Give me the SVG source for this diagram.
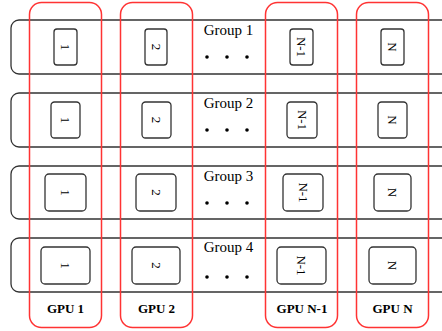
<svg xmlns="http://www.w3.org/2000/svg" width="442" height="331" viewBox="0 0 442 331">
<style>
.row{fill:none;stroke:#333;stroke-width:1.3}
.box{fill:#fff;stroke:#333;stroke-width:1.3}
.col{fill:none;stroke:#ff3333;stroke-width:1.5}
.num{font-family:"Liberation Serif",serif;font-size:13px;fill:#000;text-anchor:middle;dominant-baseline:central}
.grp{font-family:"Liberation Serif",serif;font-size:15px;fill:#000;text-anchor:middle}
.gpu{font-family:"Liberation Serif",serif;font-size:13px;font-weight:bold;fill:#000;text-anchor:middle}
.dot{fill:#000}
</style>
<rect width="442" height="331" fill="#fff"/>
<g id="group1">
<rect class="row" x="11" y="20" width="440" height="54" rx="8"/>
<text class="grp" x="228.5" y="35">Group 1</text>
<circle class="dot" cx="207" cy="57" r="1.8"/><circle class="dot" cx="227" cy="57" r="1.8"/><circle class="dot" cx="247" cy="57" r="1.8"/>
</g>
<g id="group2">
<rect class="row" x="11" y="93" width="440" height="54" rx="8"/>
<text class="grp" x="228.5" y="108">Group 2</text>
<circle class="dot" cx="207" cy="130" r="1.8"/><circle class="dot" cx="227" cy="130" r="1.8"/><circle class="dot" cx="247" cy="130" r="1.8"/>
</g>
<g id="group3">
<rect class="row" x="11" y="166" width="440" height="53" rx="8"/>
<text class="grp" x="228.5" y="181">Group 3</text>
<circle class="dot" cx="207" cy="203" r="1.8"/><circle class="dot" cx="227" cy="203" r="1.8"/><circle class="dot" cx="247" cy="203" r="1.8"/>
</g>
<g id="group4">
<rect class="row" x="11" y="238" width="440" height="54" rx="8"/>
<text class="grp" x="228.5" y="252">Group 4</text>
<circle class="dot" cx="207" cy="277" r="1.8"/><circle class="dot" cx="227" cy="277" r="1.8"/><circle class="dot" cx="247" cy="277" r="1.8"/>
</g>
<g id="r1c1"><rect class="box" x="54" y="29" width="23" height="36" rx="3"/><text class="num" transform="translate(65.5,47) rotate(90)">1</text></g>
<g id="r1c2"><rect class="box" x="145" y="29" width="22" height="36" rx="3"/><text class="num" transform="translate(156,47) rotate(90)">2</text></g>
<g id="r1c3"><rect class="box" x="290" y="29" width="23" height="36" rx="3"/><text class="num" transform="translate(301.5,47) rotate(90)">N-1</text></g>
<g id="r1c4"><rect class="box" x="381" y="29" width="23" height="36" rx="3"/><text class="num" transform="translate(392.5,47) rotate(90)">N</text></g>
<g id="r2c1"><rect class="box" x="51" y="102" width="29" height="36" rx="3.5"/><text class="num" transform="translate(65.5,120) rotate(90)">1</text></g>
<g id="r2c2"><rect class="box" x="142" y="102" width="29" height="36" rx="3.5"/><text class="num" transform="translate(156.5,120) rotate(90)">2</text></g>
<g id="r2c3"><rect class="box" x="287" y="102" width="30" height="36" rx="3.5"/><text class="num" transform="translate(302,120) rotate(90)">N-1</text></g>
<g id="r2c4"><rect class="box" x="378" y="102" width="29" height="36" rx="3.5"/><text class="num" transform="translate(392.5,120) rotate(90)">N</text></g>
<g id="r3c1"><rect class="box" x="45" y="174" width="41" height="37" rx="4"/><text class="num" transform="translate(65.5,192.5) rotate(90)">1</text></g>
<g id="r3c2"><rect class="box" x="136" y="174" width="40" height="37" rx="4"/><text class="num" transform="translate(156,192.5) rotate(90)">2</text></g>
<g id="r3c3"><rect class="box" x="283" y="174" width="40" height="37" rx="4"/><text class="num" transform="translate(303,192.5) rotate(90)">N-1</text></g>
<g id="r3c4"><rect class="box" x="374" y="174" width="37" height="37" rx="4"/><text class="num" transform="translate(392.5,192.5) rotate(90)">N</text></g>
<g id="r4c1"><rect class="box" x="41" y="247" width="49" height="37" rx="4"/><text class="num" transform="translate(65.5,265.5) rotate(90)">1</text></g>
<g id="r4c2"><rect class="box" x="132" y="247" width="48" height="37" rx="4"/><text class="num" transform="translate(156,265.5) rotate(90)">2</text></g>
<g id="r4c3"><rect class="box" x="277" y="247" width="49" height="37" rx="4"/><text class="num" transform="translate(301.5,265.5) rotate(90)">N-1</text></g>
<g id="r4c4"><rect class="box" x="369" y="247" width="47" height="37" rx="4"/><text class="num" transform="translate(392.5,265.5) rotate(90)">N</text></g>
<g id="gpu1"><rect class="col" x="29.5" y="2.5" width="72" height="325" rx="12"/><text class="gpu" x="65.5" y="313">GPU 1</text></g>
<g id="gpu2"><rect class="col" x="120.5" y="2.5" width="72" height="325" rx="12"/><text class="gpu" x="156.5" y="313">GPU 2</text></g>
<g id="gpuN-1"><rect class="col" x="265.5" y="2.5" width="72" height="325" rx="12"/><text class="gpu" x="302" y="313">GPU N-1</text></g>
<g id="gpuN"><rect class="col" x="356.5" y="2.5" width="72" height="325" rx="12"/><text class="gpu" x="392.5" y="313">GPU N</text></g>
<g id="connectors"></g>
</svg>
